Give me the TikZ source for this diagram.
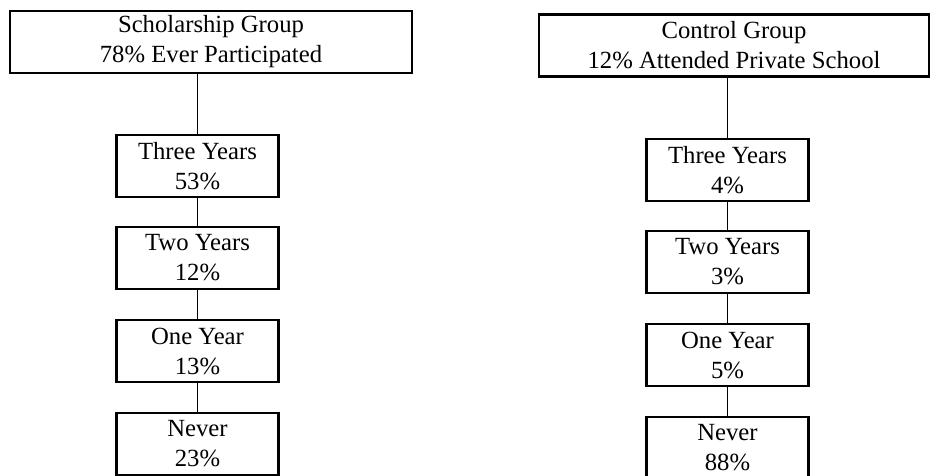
\documentclass[tikz,border=0pt]{standalone}
\usepackage{fontspec}
\setmainfont{Liberation Serif}
\usepackage{tikz}
\usetikzlibrary{positioning}

\begin{document}
\begin{tikzpicture}[x=1pt, y=1pt,
    groupbox/.style={draw, line width=2.3pt, minimum height=62pt, inner sep=0pt,
        align=center, font=\fontsize{24.7}{30}\selectfont},
    yearbox/.style={groupbox, minimum width=162pt},
    link/.style={line width=1.8pt}]
    \useasboundingbox (0,0) rectangle (931,476);
    \clip (0,0) rectangle (931,476);

    % Scholarship group
    \node[groupbox, minimum width=402pt] (sgroup) at (211,434) {Scholarship Group\\78\% Ever Participated};
    \node[yearbox] (sthree) at (197.5,310) {Three Years\\53\%};
    \node[yearbox] (stwo)   at (197.5,218) {Two Years\\12\%};
    \node[yearbox] (sone)   at (197.5,125) {One Year\\13\%};
    \node[yearbox] (snever) at (197.5,32)  {Never\\23\%};

    % Control group
    \node[groupbox, minimum width=390pt] (cgroup) at (734,430.5) {Control Group\\12\% Attended Private School};
    \node[yearbox] (cthree) at (727.5,306) {Three Years\\4\%};
    \node[yearbox] (ctwo)   at (727.5,214) {Two Years\\3\%};
    \node[yearbox] (cone)   at (727.5,121) {One Year\\5\%};
    \node[yearbox] (cnever) at (727.5,28)  {Never\\88\%};

    % Connectors
    \draw[link] (sthree.north) -- (sthree.north |- sgroup.south);
    \draw[link] (cthree.north) -- (cthree.north |- cgroup.south);
    \foreach \a/\b in {sthree/stwo, stwo/sone, sone/snever, cthree/ctwo, ctwo/cone, cone/cnever} {
        \draw[link] (\a.south) -- (\b.north);
    }
\end{tikzpicture}
\end{document}
